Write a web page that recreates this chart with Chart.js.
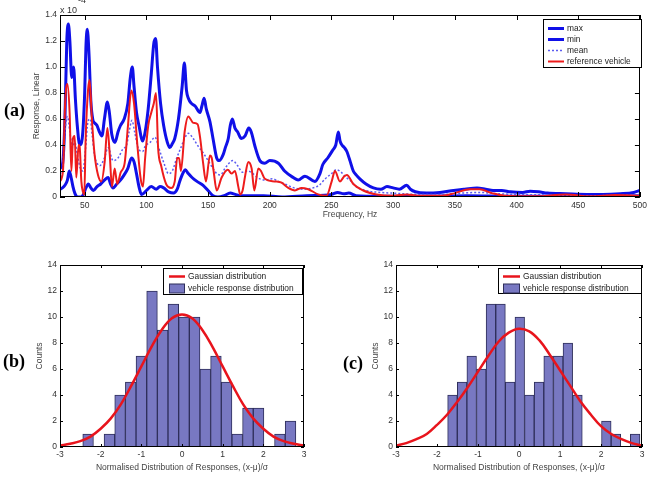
<!DOCTYPE html>
<html>
<head>
<meta charset="utf-8">
<script src="https://cdn.jsdelivr.net/npm/chart.js@4.4.1/dist/chart.umd.min.js"></script>
<style>
body { margin:0; background:#fff; width:651px; height:478px; position:relative; overflow:hidden; font-family: Arial, "Liberation Sans", sans-serif; }
canvas { position:absolute; }
.tag { position:absolute; font: bold 18px "Times New Roman", "Liberation Serif", serif; line-height:18px; color:#000; }
.exp { position:absolute; font-size:9px; line-height:9px; color:#333; }
</style>
</head>
<body>
<canvas id="graficaA" width="651" height="228" style="left:0;top:0"></canvas>
<canvas id="graficaB" width="320" height="238" style="left:0;top:240px"></canvas>
<canvas id="graficaC" width="321" height="238" style="left:330px;top:240px"></canvas>
<div class="tag" style="left:4px;top:101px">(a)</div>
<div class="tag" style="left:3px;top:352px">(b)</div>
<div class="tag" style="left:343px;top:354px">(c)</div>
<div class="exp" style="left:60px;top:6px">x 10</div>
<div class="exp" style="left:78px;top:-4px">-4</div>
<script>
// --- (a) respuesta en frecuencia, valores en x 10^-4 ---
const ticksHz = [50, 100, 150, 200, 250, 300, 350, 400, 450, 500];
const ticksResp = [0, 0.2, 0.4, 0.6, 0.8, 1, 1.2, 1.4];

const maxPts = [[30,0.22],[32,0.25],[34,0.6],[35.5,1.2],[36.8,1.33],[38,1.2],[39.5,0.92],[41,1.0],[42.5,0.75],[44,0.55],[46,0.4],[48,0.45],[50,0.8],[51,1.15],[52.1,1.29],[53.5,1.1],[55,0.74],[56.5,0.6],[58,0.57],[60,0.55],[62,0.5],[64,0.47],[66,0.6],[68.4,0.73],[70,0.65],[72,0.48],[74.6,0.42],[77,0.5],[79,0.55],[82,0.6],[85,0.72],[87,0.92],[88.6,1.0],[90,0.85],[92,0.65],[94,0.55],[97,0.43],[99,0.5],[101.5,0.68],[104,0.95],[106,1.18],[107.5,1.22],[109,1.0],[111.5,0.72],[114,0.55],[117,0.42],[119,0.38],[121,0.41],[123,0.45],[126,0.6],[129,0.85],[130.8,1.03],[132.5,0.82],[134,0.76],[136.5,0.72],[139.5,0.7],[143.5,0.65],[145,0.7],[146.8,0.76],[148.5,0.68],[151.5,0.58],[154,0.45],[157,0.3],[159,0.28],[162.4,0.33],[164,0.38],[166.4,0.45],[168,0.55],[169.7,0.6],[171.8,0.53],[174,0.5],[177,0.45],[180,0.47],[183,0.53],[185,0.5],[188,0.39],[192,0.28],[196,0.26],[200,0.28],[207,0.26],[212,0.2],[219,0.15],[223,0.13],[228.5,0.16],[236.6,0.12],[240.7,0.18],[243,0.25],[247,0.3],[251,0.36],[253.5,0.4],[255.6,0.5],[257,0.43],[258.5,0.4],[260.5,0.38],[262.5,0.35],[265,0.28],[267.7,0.2],[270,0.17],[273,0.14],[278,0.1],[284,0.07],[290,0.06],[295,0.08],[300,0.07],[305,0.06],[311,0.09],[314,0.06],[318,0.04],[327,0.03],[338,0.035],[349,0.05],[358,0.06],[368,0.07],[375,0.06],[381,0.05],[388,0.05],[395,0.04],[405,0.035],[411,0.045],[418,0.04],[425,0.03],[440,0.025],[457,0.02],[470,0.02],[484,0.025],[495,0.035],[500,0.05]];

const minPts = [[30,0.06],[32,0.07],[34,0.09],[36,0.13],[37.5,0.2],[39,0.15],[40.5,0.08],[42,0.03],[44,0.0],[47,0.0],[49,0.02],[51,0.07],[53,0.1],[55,0.07],[57,0.05],[60,0.08],[63,0.1],[66,0.13],[69,0.15],[71,0.1],[73,0.07],[76,0.1],[79,0.13],[82,0.17],[85,0.22],[88,0.3],[90,0.27],[92,0.18],[94,0.08],[96,0.02],[98,0.03],[100,0.05],[104,0.08],[108,0.06],[111,0.08],[114,0.07],[118,0.04],[122,0.03],[125,0.06],[127,0.12],[130,0.19],[131.5,0.21],[134,0.18],[137,0.15],[141,0.12],[146,0.09],[150,0.05],[154,0.01],[158,0.0],[163,0.01],[168,0.03],[172,0.02],[176,0.01],[185,0.01],[195,0.01],[210,0.0],[230,0.01],[250,0.02],[255,0.035],[260,0.025],[264,0.03],[270,0.01],[290,0.005],[320,0.005],[360,0.01],[400,0.005],[450,0.005],[500,0.01]];

const meanPts = [[30,0.12],[32,0.2],[34,0.5],[36,0.62],[38,0.5],[40,0.38],[42,0.42],[44.5,0.3],[46.5,0.22],[48.6,0.2],[50.5,0.35],[52.7,0.58],[54.5,0.6],[56,0.48],[58,0.32],[60,0.26],[62.2,0.24],[66,0.3],[69,0.38],[73,0.28],[77,0.3],[81,0.37],[84,0.4],[86,0.5],[88.3,0.59],[90.5,0.5],[93.2,0.38],[97,0.35],[99,0.39],[103,0.42],[107,0.46],[110,0.38],[112.4,0.31],[115,0.24],[117.8,0.18],[121,0.2],[124.6,0.3],[128,0.38],[131,0.45],[134,0.49],[138,0.45],[142,0.39],[146,0.34],[150,0.28],[154,0.22],[157,0.18],[160,0.17],[163.7,0.22],[167,0.26],[170,0.28],[174,0.24],[178,0.19],[182,0.2],[185,0.19],[190,0.15],[196,0.13],[202,0.14],[207,0.12],[212,0.1],[220,0.07],[228,0.06],[235,0.07],[240,0.09],[245,0.14],[250,0.18],[254,0.21],[258,0.19],[262,0.15],[266,0.12],[270,0.08],[278,0.05],[290,0.035],[300,0.03],[320,0.02],[340,0.02],[355,0.03],[370,0.035],[385,0.025],[400,0.02],[430,0.015],[460,0.01],[490,0.015],[500,0.02]];

const refPts = [[30,0.12],[32.4,0.2],[34.3,0.75],[36,0.87],[37.8,0.65],[39.2,0.2],[40.5,0.45],[41.9,0.47],[43.2,0.15],[45.1,0.4],[46,0.38],[47.3,0.12],[48.6,0.04],[49.7,0.02],[50.8,0.45],[52.7,0.82],[54,0.9],[55.9,0.59],[58,0.33],[60.8,0.17],[63.5,0.12],[66.2,0.27],[68.4,0.53],[70.3,0.33],[72.1,0.08],[74.3,0.22],[76.4,0.1],[79.2,0.19],[82.4,0.26],[85.1,0.55],[87.8,0.82],[90,0.72],[92.7,0.4],[95.4,0.14],[97.2,0.08],[99,0.3],[101.5,0.55],[104,0.65],[106,0.72],[107.8,0.8],[109.5,0.38],[112,0.24],[116,0.1],[120,0.07],[123,0.12],[125,0.3],[126.5,0.3],[128,0.2],[131,0.5],[134,0.62],[138,0.57],[141.5,0.56],[143.5,0.46],[146,0.26],[148.3,0.12],[151.5,0.32],[153,0.3],[154.5,0.2],[157,0.05],[161,0.15],[166,0.21],[169,0.18],[171.8,0.2],[174.5,0.08],[176,0.02],[178,0.05],[180,0.16],[182.6,0.27],[185.3,0.22],[187.5,0.05],[190.7,0.22],[192.9,0.2],[196,0.14],[204,0.12],[209.6,0.11],[215,0.07],[220.4,0.05],[225.8,0.07],[231.2,0.06],[239.3,0.02],[246,0.01],[250.2,0.12],[252.8,0.2],[256.9,0.12],[260.4,0.16],[262.5,0.17],[267.7,0.1],[275.8,0.05],[286.6,0.02],[300,0.01],[311,0.02],[320,0.01],[340,0.01],[350,0.03],[362,0.06],[370,0.06],[380,0.03],[390,0.01],[415,0.005],[440,0.02],[460,0.005],[480,0.015],[500,0.01]];

// --- (b) y (c) histogramas ---
const ticksZ = [-3, -2, -1, 0, 1, 2, 3];
const ticksCounts = [0, 2, 4, 6, 8, 10, 12, 14];

const binsB = [-2.309,-2.047,-1.785,-1.523,-1.261,-0.999,-0.737,-0.475,-0.213,0.049,0.311,0.573,0.835,1.097,1.359,1.621,1.883,2.145,2.407,2.669];
const countsB = [1,0,1,4,5,7,12,9,11,10,10,6,7,5,1,3,3,0,1,2];

const binsC = [-1.623,-1.388,-1.154,-0.919,-0.685,-0.450,-0.216,0.019,0.253,0.488,0.722,0.957,1.191,1.426,1.660,1.895,2.130,2.364,2.599,2.833];
const countsC = [4,5,7,6,11,11,5,10,4,5,7,7,8,4,0,0,2,1,0,1];

const gaussZ = [-3,-2.75,-2.5,-2.25,-2,-1.75,-1.5,-1.25,-1,-0.75,-0.5,-0.25,0,0.25,0.5,0.75,1,1.25,1.5,1.75,2,2.25,2.5,2.75,3];
const gaussB = [0.1,0.25,0.45,0.8,1.4,2.2,3.3,4.7,6.2,7.7,9.0,9.9,10.2,9.9,9.0,7.7,6.2,4.7,3.3,2.2,1.4,0.8,0.45,0.25,0.1];
const gaussC = [0.1,0.3,0.6,1.0,1.7,2.5,3.5,4.6,5.8,7.0,8.1,8.8,9.1,8.9,8.2,7.1,5.9,4.7,3.5,2.5,1.6,1.0,0.6,0.3,0.1];

Chart.defaults.font.family = 'Arial, "Liberation Sans", sans-serif';
Chart.defaults.color = '#333';
Chart.defaults.animation = false;

// caja estilo matlab: borde, ticks hacia dentro y leyenda con marco
const cajaMatlab = {
  id: 'cajaMatlab',
  afterDraw(chart, args, opts) {
    const {ctx, chartArea: a, scales} = chart;
    const len = opts.len;
    ctx.save();
    ctx.strokeStyle = '#000';
    ctx.lineWidth = 1;
    ctx.beginPath();
    scales.x.ticks.forEach(t => {
      const px = Math.round(scales.x.getPixelForValue(t.value)) + 0.5;
      ctx.moveTo(px, a.bottom); ctx.lineTo(px, a.bottom - len);
      ctx.moveTo(px, a.top); ctx.lineTo(px, a.top + len);
    });
    scales.y.ticks.forEach(t => {
      const py = Math.round(scales.y.getPixelForValue(t.value)) + 0.5;
      ctx.moveTo(a.left, py); ctx.lineTo(a.left + len, py);
      ctx.moveTo(a.right, py); ctx.lineTo(a.right - len, py);
    });
    ctx.stroke();
    ctx.strokeRect(Math.round(a.left) + 0.5, Math.round(a.top) + 0.5, Math.round(a.width) - 1, Math.round(a.height) - 1);

    const L = opts.leyenda;
    ctx.fillStyle = '#fff';
    ctx.fillRect(L.x, L.y, L.w, L.h);
    ctx.strokeRect(L.x + 0.5, L.y + 0.5, L.w, L.h);
    ctx.font = '8.4px Arial, "Liberation Sans", sans-serif';
    ctx.textBaseline = 'middle';
    chart.data.datasets.forEach((ds, i) => {
      const yy = L.y + L.first + i * L.step + 0.5;
      if (ds.type === 'bar') {
        ctx.fillStyle = ds.backgroundColor;
        ctx.fillRect(L.x + L.sx, yy - 4.5, L.sw, 9);
        ctx.strokeStyle = ds.borderColor;
        ctx.lineWidth = 1;
        ctx.strokeRect(L.x + L.sx + 0.5, yy - 4.5, L.sw - 1, 9);
      } else {
        ctx.strokeStyle = ds.borderColor;
        ctx.lineWidth = ds.borderWidth;
        ctx.setLineDash(ds.borderDash || []);
        ctx.beginPath();
        ctx.moveTo(L.x + L.sx, yy); ctx.lineTo(L.x + L.sx + L.sw, yy);
        ctx.stroke();
        ctx.setLineDash([]);
      }
      ctx.fillStyle = '#222';
      ctx.fillText(ds.label, L.x + L.tx, yy);
    });
    ctx.restore();
  }
};

function ejes(cfg) {
  return {
    x: {
      type: 'linear', min: cfg.xmin, max: cfg.xmax, offset: false,
      afterBuildTicks: s => { s.ticks = cfg.xticks.map(v => ({value: v})); },
      afterFit: s => { s.height = 31; },
      grid: {display: false, drawTicks: false}, border: {display: false},
      ticks: {padding: cfg.xpad, font: {size: 8.5}, color: '#333', maxRotation: 0, autoSkip: false},
      title: {display: true, text: cfg.xtitle, font: {size: 8.5}, color: '#444', padding: {top: 0, bottom: cfg.xtpad}}
    },
    y: {
      type: 'linear', min: cfg.ymin, max: cfg.ymax,
      afterBuildTicks: s => { s.ticks = cfg.yticks.map(v => ({value: v})); },
      afterFit: s => { s.width = cfg.ywidth; },
      grid: {display: false, drawTicks: false}, border: {display: false},
      ticks: {padding: 3, font: {size: 8.5}, color: '#333', autoSkip: false},
      title: {display: true, text: cfg.ytitle, font: {size: 8.5}, color: '#444', padding: {top: cfg.ytpad, bottom: 0}}
    }
  };
}

const aXY = pts => pts.map(p => ({x: p[0], y: p[1]}));

new Chart(document.getElementById('graficaA'), {
  type: 'line',
  data: {
    datasets: [
      {label: 'max', data: aXY(maxPts), borderColor: '#1010e8', borderWidth: 3, order: 3},
      {label: 'min', data: aXY(minPts), borderColor: '#1010e8', borderWidth: 3, order: 2},
      {label: 'mean', data: aXY(meanPts), borderColor: '#5c5cf0', borderWidth: 1.5, borderDash: [2, 2], order: 1},
      {label: 'reference vehicle', data: aXY(refPts), borderColor: '#ee1c1c', borderWidth: 2, order: 0}
    ]
  },
  options: {
    responsive: false,
    devicePixelRatio: 1,
    layout: {padding: {top: 15, right: 10, left: 0, bottom: 0}},
    elements: {point: {radius: 0}, line: {cubicInterpolationMode: 'monotone'}},
    scales: ejes({xmin: 30, xmax: 500, xticks: ticksHz, xtitle: 'Frequency, Hz', xpad: 4, xtpad: 8,
                  ymin: 0, ymax: 1.4, yticks: ticksResp, ytitle: 'Response, Linear', ytpad: 32, ywidth: 60}),
    plugins: {
      legend: {display: false}, tooltip: {enabled: false},
      cajaMatlab: {len: 5, leyenda: {x: 543, y: 19, w: 98, h: 48, first: 9, step: 11, sx: 5, sw: 16, tx: 24}}
    }
  },
  plugins: [cajaMatlab]
});

function histograma(id, bins, counts, gauss, cfg) {
  new Chart(document.getElementById(id), {
    type: 'bar',
    data: {
      datasets: [
        {type: 'line', label: 'Gaussian distribution', data: gaussZ.map((z, i) => ({x: z, y: gauss[i]})),
         borderColor: '#e8141c', borderWidth: 2.5, pointRadius: 0, tension: 0.4},
        {type: 'bar', label: 'vehicle response distribution', data: bins.map((b, i) => ({x: b, y: counts[i]})),
         backgroundColor: '#7878c2', borderColor: '#2e2e5a', borderWidth: 1, borderSkipped: false,
         barPercentage: 1, categoryPercentage: 1}
      ]
    },
    options: {
      responsive: false,
      devicePixelRatio: 1,
      layout: {padding: {top: 25, right: cfg.right, left: 0, bottom: 0}},
      scales: ejes({xmin: -3, xmax: 3, xticks: ticksZ, xtitle: 'Normalised Distribution of Responses, (x-\u03bc)/\u03c3', xpad: 3, xtpad: 5,
                    ymin: 0, ymax: 14, yticks: ticksCounts, ytitle: 'Counts', ytpad: cfg.ytpad, ywidth: cfg.ywidth}),
      plugins: {
        legend: {display: false}, tooltip: {enabled: false},
        cajaMatlab: {len: 3, leyenda: cfg.leyenda}
      }
    },
    plugins: [cajaMatlab]
  });
}

histograma('graficaB', binsB, countsB, gaussB,
  {right: 16, ywidth: 60, ytpad: 35, leyenda: {x: 163, y: 28, w: 139, h: 26, first: 8, step: 12, sx: 6, sw: 16, tx: 25}});
histograma('graficaC', binsC, countsC, gaussC,
  {right: 9, ywidth: 66, ytpad: 41, leyenda: {x: 168, y: 28, w: 143, h: 25, first: 8, step: 12, sx: 5, sw: 17, tx: 25}});
</script>
</body>
</html>
